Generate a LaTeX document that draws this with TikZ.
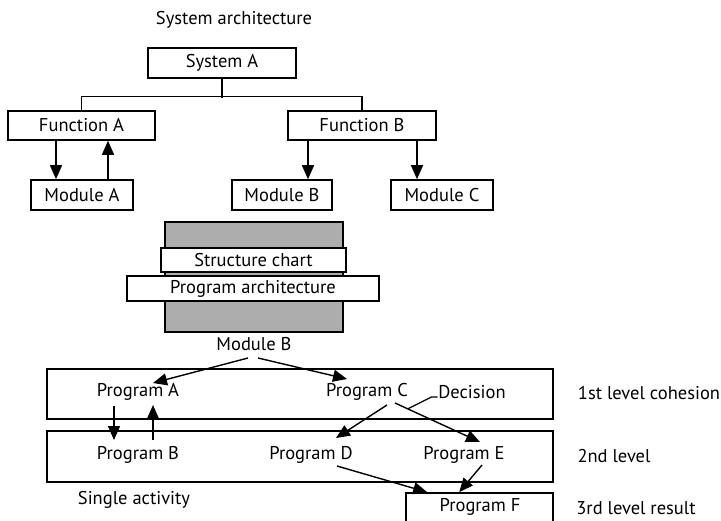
\documentclass[tikz,border=0pt]{standalone}
\usepackage{fontspec}
\setmainfont{PT Sans}
\usetikzlibrary{arrows.meta,calc}
\begin{document}
\begin{tikzpicture}[x=1pt,y=-1pt,
  line width=1.6pt,
  every node/.style={font=\fontsize{18.5}{21}\selectfont, inner sep=0pt},
  box/.style={draw, rectangle, minimum height=#1},
  box/.default=30,
  arr/.style={-{Triangle[length=14pt,width=12pt]}, line width=1.4pt},
  thin/.style={line width=1.2pt}]
\useasboundingbox (0,0) rectangle (721,520);

% title
\node (title) at (234,20) {System architecture};

% system architecture tree
\node[box, minimum width=148] (sysA) at (222,63) {System A};
\node[box=29, minimum width=147] (funA) at (81.5,125.5) {Function A};
\node[box=29, minimum width=148] (funB) at (362,125.5) {Function B};
\node[box, minimum width=102] (modA) at (82,195) {Module A};
\node[box, minimum width=100] (modB) at (282,195) {Module B};
\node[box, minimum width=102] (modC) at (442,195) {Module C};

\draw[thin] (sysA.south) -- ++(0,19);
\draw[thin] (funA.north) -- ++(0,-14) -| (funB.north);

\draw[arr] ($(funA.south)+(-25.5,0)$) -- ($(modA.north)+(-26,0)$);
\draw[arr] ($(modA.north)+(26,0)$) -- ($(funA.south)+(26.5,0)$);
\draw[arr] ($(funB.south)+(-54,0)$) -- ($(modB.north)+(26,0)$);
\draw[arr] ($(funB.south)+(55,0)$) -- ($(modC.north)+(-25,0)$);

% structure chart / program architecture stack
\node[box=110, minimum width=178, fill=black!32] (stack) at (254,277) {};
\node[box=24, minimum width=185, fill=white] (chart) at (253.5,260) {Structure chart};
\node[box=25, minimum width=252, fill=white] (parch) at (253,288.5) {Program architecture};
\node (modBt) at (254,344) {Module B};

% program levels
\node[box=50, minimum width=506] (lvlA) at (300,394) {};
\node[box=51, minimum width=506] (lvlB) at (300,456.5) {};
\node[box=40, minimum width=147] (boxF) at (479.5,513) {};

\node (progA) at (138,392) {Program A};
\node (progC) at (367,392) {Program C};
\node (dec) at (472,392) {Decision};
\node (progB) at (138,455) {Program B};
\node (progD) at (311,455) {Program D};
\node (progE) at (464,455) {Program E};
\node (progF) at (480,507) {Program F};

\node (single) at (134,500) {Single activity};
\node (l1) at (649,393) {1st level cohesion};
\node (l2) at (614,456) {2nd level};
\node (l3) at (636,508) {3rd level result};

\draw[arr] ($(modBt)+(-6,14)$) -- ($(progA)+(15,-9)$);
\draw[arr] ($(modBt)+(4,14)$) -- ($(progC)+(-20,-13)$);
\draw[arr] ($(progA)+(-24,14)$) -- ($(progB)+(-24,-15)$);
\draw[arr] ($(progB)+(15,-15)$) -- ($(progA)+(15,13)$);
\draw[arr] ($(progC)+(20,13)$) -- ($(progD)+(25,-17)$);
\draw[arr] ($(progC)+(28,11)$) coordinate (ce1) -- ($(progE)+(16,-13)$) coordinate (ce2);
\draw[thin] ($(ce1)!0.15!(ce2)$) -- ($(dec.west)+(-6,5)$) -- ($(dec.west)+(0,5)$);
\draw[arr] ($(progD)+(26,11)$) -- ($(boxF.north west)+(22,0)$);
\draw[arr] ($(progE)+(18,10)$) -- ($(boxF.north west)+(54,0)$);
\end{tikzpicture}
\end{document}
